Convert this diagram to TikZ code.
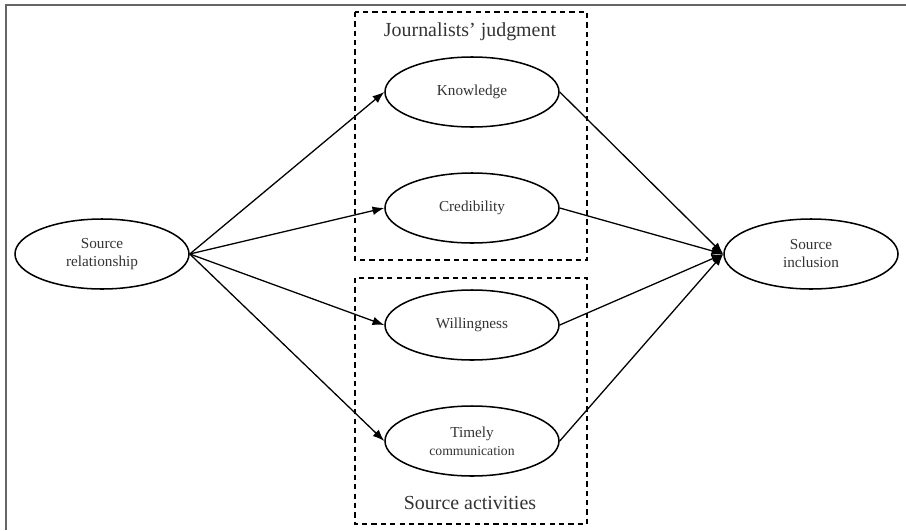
\documentclass[tikz,border=0pt]{standalone}
\usepackage{fontspec}
\setmainfont{Liberation Serif}
\usetikzlibrary{shapes.geometric,arrows.meta}

\tikzset{
  factor/.style={ellipse, draw, line width=1.3pt, inner sep=0pt,
    minimum width=5.22cm, minimum height=2.1cm, align=center,
    text=black!80, font=\fontsize{13}{15.4}\selectfont},
  groupbox/.style={draw, dashed, line width=1.2pt, dash pattern=on 4.5pt off 3.5pt},
  grouplabel/.style={text=black!80, font=\fontsize{17}{20}\selectfont},
  path/.style={line width=1.1pt, -{Latex[length=10pt,width=7.5pt]}},
}

\begin{document}
\begin{tikzpicture}[x=0.03cm, y=-0.03cm]
        \useasboundingbox (0,0) rectangle (906,530);
        % frame
        \draw[black!60, line width=1.7pt] (906,5) -- (6,5) -- (6,530);

        % groups
        \draw[groupbox] (355,12) rectangle (587,260);
        \draw[groupbox] (355,278) rectangle (587,524);
        \node[grouplabel] (jud) at (470,32) {Journalists' judgment};
        \node[grouplabel] (act) at (470,503) {Source activities};

        % factors
        \node[factor] (src) at (102,254) {Source\\relationship};
        \node[factor] (kno) at (472,92) {Knowledge};
        \node[factor] (cre) at (472,208) {Credibility};
        \node[factor] (wil) at (472,325) {Willingness};
        \node[factor] (tim) at (472,441) {Timely\\{\fontsize{11.7}{13}\selectfont communication}};
        \node[factor] (inc) at (811,254) {Source\\inclusion};

        % paths
        \foreach \m in {kno,cre,wil,tim} {
            \draw[path] (src.east) -- (\m.west);
            \draw[path] (\m.east) -- (inc.west);
        }
    \end{tikzpicture}
\end{document}
